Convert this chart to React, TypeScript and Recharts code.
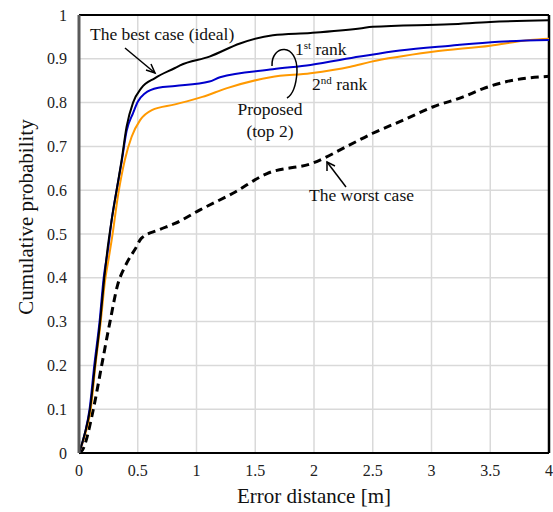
import { CartesianGrid, Line, LineChart, ReferenceLine, XAxis, YAxis } from 'recharts';

// error distance [m] / cumulative probability
const BEST_X = [0, 0.05, 0.094, 0.136, 0.18, 0.215, 0.24, 0.278, 0.32, 0.363, 0.405, 0.46, 0.53, 0.647, 0.817, 0.86, 1.11, 1.37, 1.65, 1.97, 2.39, 2.5, 3.16, 3.5, 4.0];
const BEST_Y = [0, 0.045, 0.1, 0.2, 0.3, 0.4, 0.46, 0.532, 0.6, 0.669, 0.745, 0.8, 0.833, 0.856, 0.879, 0.885, 0.905, 0.935, 0.954, 0.959, 0.969, 0.973, 0.979, 0.984, 0.988];

const RANK1_X = [0, 0.05, 0.09, 0.13, 0.175, 0.21, 0.25, 0.278, 0.32, 0.363, 0.405, 0.46, 0.5, 0.56, 0.675, 0.817, 1.11, 1.2, 1.65, 1.97, 2.39, 2.73, 3.16, 3.57, 4.0];
const RANK1_Y = [0, 0.045, 0.1, 0.2, 0.3, 0.4, 0.471, 0.532, 0.6, 0.665, 0.735, 0.776, 0.802, 0.821, 0.834, 0.838, 0.848, 0.858, 0.876, 0.886, 0.905, 0.919, 0.93, 0.939, 0.943];

const RANK2_X = [0, 0.05, 0.1, 0.14, 0.185, 0.22, 0.25, 0.278, 0.335, 0.39, 0.448, 0.52, 0.62, 0.817, 1.05, 1.26, 1.63, 1.97, 2.31, 2.48, 3.01, 3.5, 3.84, 4.0];
const RANK2_Y = [0, 0.04, 0.1, 0.2, 0.3, 0.39, 0.44, 0.486, 0.593, 0.669, 0.722, 0.76, 0.783, 0.796, 0.813, 0.833, 0.858, 0.867, 0.882, 0.893, 0.916, 0.93, 0.943, 0.946];

const WORST_X = [0, 0.03, 0.122, 0.193, 0.264, 0.33, 0.39, 0.434, 0.477, 0.53, 0.675, 0.817, 1.03, 1.31, 1.6, 1.99, 2.28, 2.5, 2.76, 3.01, 3.27, 3.44, 3.64, 4.0];
const WORST_Y = [0, 0.007, 0.1, 0.2, 0.3, 0.385, 0.425, 0.447, 0.465, 0.49, 0.509, 0.524, 0.555, 0.593, 0.638, 0.662, 0.7, 0.73, 0.76, 0.79, 0.813, 0.832, 0.848, 0.86];

const X_TICKS = [0, 0.5, 1, 1.5, 2, 2.5, 3, 3.5, 4];
const Y_TICKS = [0, 0.1, 0.2, 0.3, 0.4, 0.5, 0.6, 0.7, 0.8, 0.9, 1];

const FONT = '"Liberation Serif", Tinos, "DejaVu Serif", serif';

const toRows = (xs: number[], ys: number[]) => xs.map((x, i) => ({ x, y: ys[i] }));

export default function App() {
  const tick = { fontSize: 16, fill: '#222', style: { fontFamily: FONT } };
  return (
    <div style={{ position: 'absolute', left: 0, top: 0, width: 553, height: 512, background: '#fff', fontFamily: FONT }}>
      <LineChart width={553} height={512} margin={{ top: 15, right: 4, bottom: 0, left: 0 }} style={{ fontFamily: FONT }}>
        <CartesianGrid stroke="#d9d9d9" strokeWidth={1.5} />
        <XAxis
          type="number"
          dataKey="x"
          domain={[0, 4]}
          ticks={X_TICKS}
          height={59}
          tickSize={0}
          tickMargin={12}
          tick={tick}
          axisLine={{ stroke: '#000', strokeWidth: 2 }}
          allowDuplicatedCategory={false}
        />
        <YAxis
          type="number"
          dataKey="y"
          domain={[0, 1]}
          ticks={Y_TICKS}
          width={79}
          tickSize={0}
          tickMargin={12}
          tick={tick}
          axisLine={{ stroke: '#5a5a5a', strokeWidth: 3 }}
        />
        <ReferenceLine y={1} stroke="#000" strokeWidth={2} />
        <ReferenceLine x={4} stroke="#000" strokeWidth={2.5} />
        <Line data={toRows(WORST_X, WORST_Y)} dataKey="y" type="monotone" stroke="#000" strokeWidth={3} strokeDasharray="8 5" dot={false} isAnimationActive={false} />
        <Line data={toRows(RANK2_X, RANK2_Y)} dataKey="y" type="monotone" stroke="#ff9900" strokeWidth={2} dot={false} isAnimationActive={false} />
        <Line data={toRows(RANK1_X, RANK1_Y)} dataKey="y" type="monotone" stroke="#0000cc" strokeWidth={2} dot={false} isAnimationActive={false} />
        <Line data={toRows(BEST_X, BEST_Y)} dataKey="y" type="monotone" stroke="#000" strokeWidth={2} dot={false} isAnimationActive={false} />
      </LineChart>
      {/* annotations and axis titles */}
      <svg width={553} height={512} style={{ position: 'absolute', left: 0, top: 0, pointerEvents: 'none', fontFamily: FONT }} fill="#111">
        <text x={90} y={40} fontSize={17.5}>The best case (ideal)</text>
        <g stroke="#000" strokeWidth={1.5} fill="none">
          <path d="M125 48 L155 73" />
          <path d="M146 70 L155 73 L151 64" />
          <path d="M272 66 C271 44, 298 42, 297 72 C296 87, 292 95, 287 98" />
          <path d="M346 187 L327 162" />
          <path d="M327 171 L327 162 L335 166" />
        </g>
        <text x={295} y={55} fontSize={17.5}>
          1<tspan fontSize={11} dy={-6}>st</tspan>
          <tspan dy={6}> rank</tspan>
        </text>
        <text x={312} y={90} fontSize={17.5}>
          2<tspan fontSize={11} dy={-6}>nd</tspan>
          <tspan dy={6}> rank</tspan>
        </text>
        <text x={270} y={115} fontSize={17.5} textAnchor="middle">Proposed</text>
        <text x={270} y={137} fontSize={17.5} textAnchor="middle">(top 2)</text>
        <text x={309} y={201} fontSize={17.5}>The worst case</text>
        <text x={314} y={503} fontSize={21} textAnchor="middle">Error distance [m]</text>
        <text x={33} y={217} fontSize={21} textAnchor="middle" transform="rotate(-90 33 217)">Cumulative probability</text>
      </svg>
    </div>
  );
}
